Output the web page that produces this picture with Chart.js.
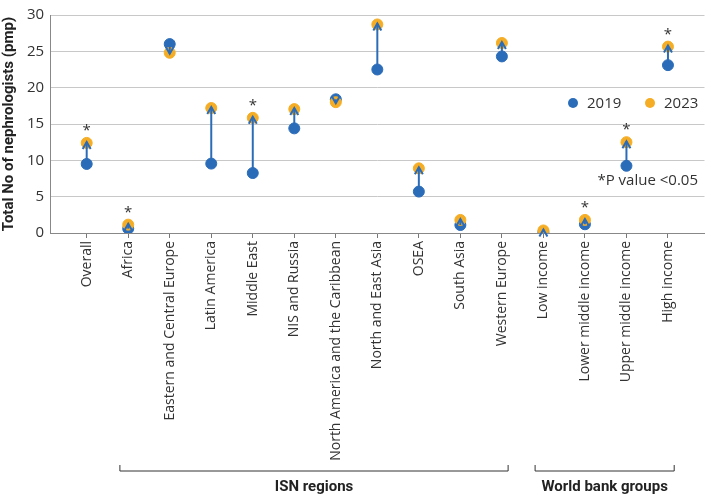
<!DOCTYPE html>
<html>
<head>
<meta charset="utf-8">
<script src="https://cdn.jsdelivr.net/npm/chart.js@4"></script>
<style>
  html, body { margin: 0; padding: 0; background: #fff; }
  #wrap { width: 711px; height: 499px; position: relative; }
</style>
</head>
<body>
<div id="wrap"><canvas id="chart"></canvas></div>
<script>
const categories = ['Overall', 'Africa', 'Eastern and Central Europe', 'Latin America', 'Middle East',
    'NIS and Russia', 'North America and the Caribbean', 'North and East Asia', 'OSEA', 'South Asia',
    'Western Europe', 'Low income', 'Lower middle income', 'Upper middle income', 'High income'];
const values2019 = [9.5, 0.6, 26.0, 9.55, 8.25, 14.4, 18.4, 22.5, 5.7, 1.1, 24.3, 0.1, 1.2, 9.25, 23.1];
const values2023 = [12.4, 1.15, 24.8, 17.2, 15.85, 17.05, 18.0, 28.7, 8.9, 1.8, 26.15, 0.35, 1.8, 12.5, 25.65];
const significant = [true, true, false, false, true, false, false, false, false, false, false, false, true, true, true];
const yTicks = [0, 5, 10, 15, 20, 25, 30];
// groups under the axis: first and last category index
const groups = [
    { label: 'ISN regions', from: 1, to: 10 },
    { label: 'World bank groups', from: 11, to: 14 }
];

const BLUE = '#2b6cb9';
const ORANGE = '#f5ad25';
const FONT = "'Open Sans', sans-serif";

const arrowsPlugin = {
    id: 'arrows',
    beforeDraw(chart) {
        // long rotated labels would otherwise be clipped at the scale box
        chart.scales.x._computeLabelArea = () => undefined;
    },
    afterDatasetsDraw(chart) {
        const ctx = chart.ctx;
        const x = chart.scales.x, y = chart.scales.y;
        ctx.save();
        ctx.strokeStyle = BLUE;
        ctx.lineWidth = 2;
        values2019.forEach((v, i) => {
            const px = x.getPixelForValue(i);
            const y0 = y.getPixelForValue(v);
            const y1 = y.getPixelForValue(values2023[i]);
            const dir = y1 < y0 ? 1 : -1;
            ctx.beginPath();
            ctx.moveTo(px, y0);
            ctx.lineTo(px, y1 - dir * 1);
            ctx.stroke();
            ctx.beginPath();
            ctx.moveTo(px - 4, y1 + dir * 6);
            ctx.lineTo(px, y1 - dir * 1);
            ctx.lineTo(px + 4, y1 + dir * 6);
            ctx.stroke();
            if (significant[i]) {
                ctx.fillStyle = '#333';
                ctx.font = '15px ' + FONT;
                ctx.textAlign = 'center';
                ctx.textBaseline = 'middle';
                ctx.fillText('*', px, Math.min(y0, y1) - 12);
            }
        });
        ctx.restore();
    },
    afterDraw(chart) {
        const ctx = chart.ctx;
        const x = chart.scales.x;
        ctx.save();
        // legend
        ctx.font = '15px ' + FONT;
        ctx.textBaseline = 'middle';
        ctx.textAlign = 'left';
        const items = chart.data.datasets.map(d => ({ label: d.label, color: d.backgroundColor }));
        let lx = 573;
        const ly = 103;
        items.forEach(it => {
            ctx.fillStyle = it.color;
            ctx.beginPath();
            ctx.arc(lx, ly, 5, 0, Math.PI * 2);
            ctx.fill();
            ctx.fillStyle = '#333';
            ctx.fillText(it.label, lx + 14, ly + 1);
            lx += 77;
        });
        ctx.textAlign = 'right';
        ctx.fillText('*P value <0.05', 698, 181);
        // group brackets
        const by = 471;
        ctx.strokeStyle = '#333';
        ctx.lineWidth = 1;
        groups.forEach(g => {
            const x0 = x.getPixelForValue(g.from - 0.2);
            const x1 = x.getPixelForValue(g.to + 0.15);
            ctx.beginPath();
            ctx.moveTo(x0, by - 6);
            ctx.lineTo(x0, by);
            ctx.lineTo(x1, by);
            ctx.lineTo(x1, by - 6);
            ctx.stroke();
            ctx.fillStyle = '#222';
            ctx.font = "bold 15px 'Roboto', sans-serif";
            ctx.textAlign = 'center';
            ctx.fillText(g.label, (x0 + x1) / 2, by + 16);
        });
        ctx.restore();
    }
};

new Chart(document.getElementById('chart'), {
    type: 'scatter',
    data: {
        datasets: [
            {
                label: '2019',
                data: values2019.map((v, i) => ({ x: i, y: v })),
                backgroundColor: BLUE,
                borderColor: BLUE,
                pointRadius: 5.5,
                order: 2
            },
            {
                label: '2023',
                data: values2023.map((v, i) => ({ x: i, y: v })),
                backgroundColor: ORANGE,
                borderColor: ORANGE,
                pointRadius: 5.5,
                order: 1
            }
        ]
    },
    options: {
        responsive: true,
        maintainAspectRatio: false,
        animation: false,
        layout: { padding: { top: 9, right: 0, bottom: 40, left: 0 } },
        plugins: {
            legend: { display: false },
            tooltip: { enabled: false }
        },
        scales: {
            x: {
                type: 'linear',
                min: -0.88,
                max: 14.88,
                afterBuildTicks: s => { s.ticks = categories.map((c, i) => ({ value: i })); },
                afterFit: s => { s.height = 226; },
                grid: { drawOnChartArea: false, drawTicks: true, tickLength: 5, color: '#777' },
                border: { color: '#888' },
                ticks: {
                    autoSkip: false,
                    minRotation: 90,
                    maxRotation: 90,
                    color: '#333',
                    font: { family: FONT, size: 14 },
                    callback: v => categories[v]
                }
            },
            y: {
                min: 0,
                max: 30,
                afterBuildTicks: s => { s.ticks = yTicks.map(v => ({ value: v })); },
                grid: { color: '#c8c8c8', drawTicks: false },
                border: { color: '#888' },
                ticks: {
                    color: '#333',
                    padding: 6,
                    font: { family: FONT, size: 15 }
                },
                title: {
                    display: true,
                    text: 'Total No of nephrologists (pmp)',
                    color: '#222',
                    font: { family: "'Roboto', sans-serif", size: 15, weight: 'bold' },
                    padding: { top: 0, bottom: 3 }
                }
            }
        }
    },
    plugins: [arrowsPlugin]
});
</script>
</body>
</html>
